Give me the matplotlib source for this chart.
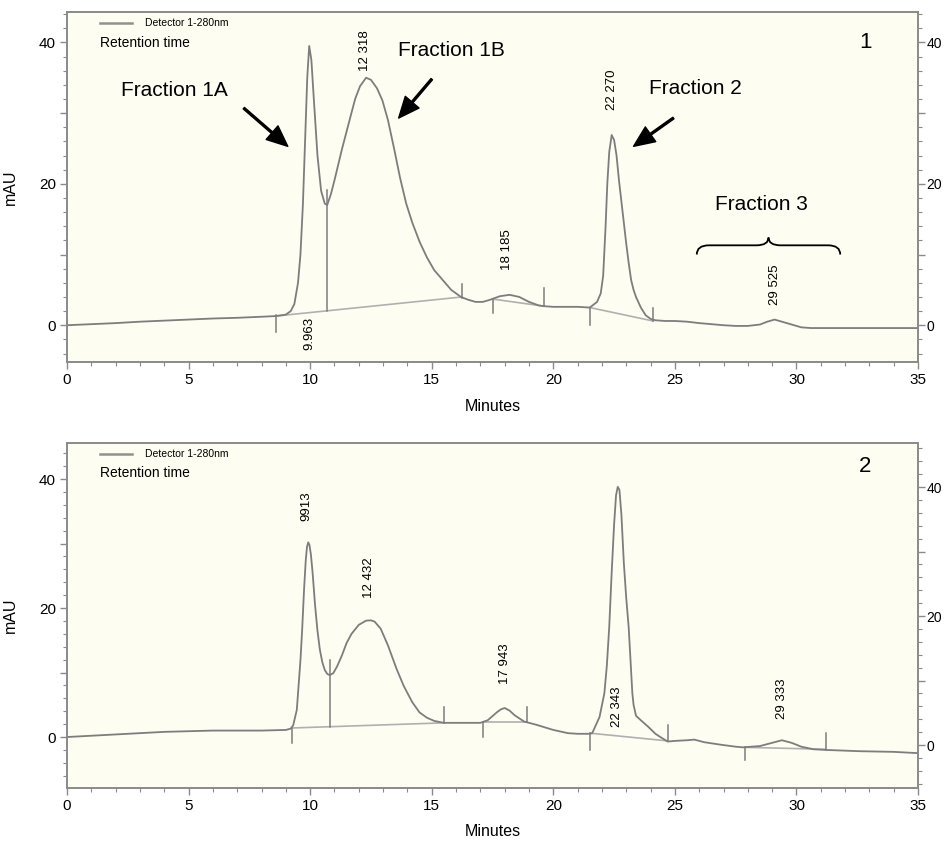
import matplotlib
matplotlib.use("Agg")
import matplotlib.pyplot as plt
from matplotlib.path import Path
from matplotlib.patches import PathPatch
from matplotlib.ticker import MultipleLocator, FuncFormatter

plt.rcParams['font.family'] = ['Liberation Sans', 'DejaVu Sans']

# ---------------- data: panel 1 trace (minutes, mAU) ----------------
t1 = [0.0, 1.0, 2.0, 3.0, 4.0, 5.0, 6.0, 7.0, 8.0, 8.6, 9.0, 9.2, 9.35, 9.5, 9.6,
      9.7, 9.8, 9.88, 9.96, 10.05, 10.15, 10.3, 10.45, 10.6, 10.7, 10.85, 11.0, 11.3,
      11.65, 11.85, 12.05, 12.3, 12.5, 12.75, 12.97, 13.2, 13.45, 13.7, 13.95,
      14.2, 14.5, 14.8, 15.1, 15.5, 15.8, 16.2, 16.5, 16.8, 17.1, 17.4, 17.8, 18.2,
      18.6, 19.0, 19.4, 19.6, 20.0, 21.0, 21.5, 21.8, 21.95, 22.05, 22.15, 22.22,
      22.3, 22.4, 22.5, 22.6, 22.7, 22.8, 22.9, 23.0, 23.1, 23.2, 23.3, 23.4, 23.6,
      23.8, 24.0, 24.2, 24.6, 25.0, 25.5, 26.0, 26.5, 27.0, 27.5, 28.0, 28.5, 28.8,
      29.1, 29.4, 29.8, 30.2, 30.6, 31.0, 33.0, 35.0]
v1 = [0.0, 0.15, 0.3, 0.5, 0.65, 0.8, 0.95, 1.05, 1.2, 1.3, 1.5, 2.0, 3.0, 6.0, 10.0,
      17.0, 27.0, 35.0, 39.5, 37.5, 32.0, 24.0, 19.0, 17.2, 17.0, 18.5, 20.5, 24.8,
      29.4, 32.0, 33.8, 35.0, 34.7, 33.5, 31.8, 29.0, 25.0, 20.8, 17.2,
      14.5, 11.8, 9.6, 7.8, 6.2, 5.0, 4.0, 3.6, 3.3, 3.3, 3.6, 4.1, 4.3,
      4.0, 3.3, 2.8, 2.7, 2.6, 2.6, 2.5, 3.3, 4.5, 7.0, 14.0, 20.0,
      24.5, 26.9, 26.2, 24.0, 20.5, 17.5, 14.5, 11.5, 8.8, 6.4, 5.0, 4.0, 2.5,
      1.4, 0.9, 0.7, 0.6, 0.6, 0.5, 0.3, 0.15, 0.0, -0.1, -0.1, 0.1, 0.5,
      0.8, 0.5, 0.1, -0.3, -0.4, -0.4, -0.4, -0.4]

# integration baselines (start t, start v, end t, end v)
base1 = [(8.6, 1.3, 16.25, 4.0), (17.5, 3.7, 19.6, 2.7), (21.5, 2.5, 24.1, 0.6)]
# peak-start / end markers (t, v_from, v_to)
marks1 = [(0.0, -0.3, 0.8), (8.6, 1.4, -1.0), (10.7, 2.0, 19.1), (16.25, 3.9, 5.9),
          (17.5, 3.7, 1.7), (19.6, 2.7, 5.2), (21.5, 2.5, 0.0), (24.1, 0.6, 2.4)]
# retention-time labels (text, t, v_anchor, va)
labels1 = [("9.963", 9.96, 1.2, "top"), ("12 318", 12.25, 36.0, "bottom"),
           ("18 185", 18.1, 7.8, "bottom"), ("22 270", 22.4, 30.4, "bottom"),
           ("29 525", 29.1, 2.8, "bottom")]

# ---------------- data: panel 2 trace (minutes, mAU) ----------------
t2 = [0.0, 1.0, 2.0, 3.0, 4.0, 5.0, 6.0, 7.0, 8.0, 9.0, 9.2, 9.3, 9.45, 9.6, 9.67,
      9.75, 9.82, 9.87, 9.92, 9.97, 10.03, 10.1, 10.2, 10.3, 10.4, 10.5, 10.6, 10.7,
      10.8, 10.95, 11.1, 11.3, 11.5, 11.7, 12.0, 12.3, 12.5, 12.65, 12.9, 13.2, 13.55,
      13.85, 14.2, 14.5, 14.8, 15.1, 15.5, 15.9, 16.5, 17.0, 17.3,
      17.7, 17.85, 18.0, 18.2, 18.4, 18.8, 19.3, 20.0, 20.6, 21.0, 21.5, 21.6, 21.9, 22.1,
      22.2, 22.3, 22.4, 22.5, 22.58, 22.65, 22.72, 22.8, 22.9, 23.0, 23.1, 23.25, 23.3, 23.4,
      23.6, 23.9, 24.2, 24.4, 24.7, 25.0, 25.5, 25.8, 26.2, 26.9, 27.5, 27.8, 28.5,
      29.0, 29.4, 29.8, 30.2, 30.7, 31.2, 32.6, 34.0, 35.0]
v2 = [0.0, 0.2, 0.4, 0.6, 0.8, 0.9, 1.0, 1.0, 1.0, 1.1, 1.3, 1.8, 4.2, 11.9, 16.6,
      23.0, 27.5, 29.5, 30.2, 29.8, 28.3, 25.5, 20.5, 16.5, 13.5, 11.6, 10.4, 9.8,
      9.6, 9.9, 10.9, 12.6, 14.6, 16.0, 17.4, 18.05, 18.1, 17.9, 16.8, 14.2, 10.6,
      7.9, 5.4, 3.8, 3.0, 2.5, 2.2, 2.2, 2.2, 2.2, 2.6,
      3.9, 4.3, 4.5, 4.1, 3.4, 2.4, 1.9, 1.1, 0.6, 0.5, 0.5, 0.6, 3.1, 6.8,
      11.0, 17.1, 25.5, 33.0, 37.5, 38.8, 38.3, 34.5, 27.0, 21.5, 17.0, 6.8, 5.0, 3.3,
      2.6, 1.6, 0.5, 0.0, -0.7, -0.6, -0.5, -0.4, -0.8, -1.2, -1.5, -1.6, -1.4,
      -0.9, -0.5, -0.9, -1.5, -1.9, -2.0, -2.2, -2.3, -2.5]

base2 = [(9.25, 1.4, 15.5, 2.2), (17.1, 2.3, 18.9, 2.3), (21.5, 0.6, 24.7, -0.6),
         (27.9, -1.6, 31.2, -1.9)]
marks2 = [(9.25, 1.4, -0.9), (10.8, 1.6, 11.9), (15.5, 2.2, 4.6), (17.1, 2.3, 0.0),
          (18.9, 2.3, 4.6), (21.5, 0.6, -2.0), (24.7, -0.6, 1.9), (27.9, -1.6, -3.6),
          (31.2, -2.0, 0.6)]
labels2 = [("9913", 9.85, 33.5, "bottom"), ("12 432", 12.4, 21.5, "bottom"),
           ("17 943", 18.0, 8.2, "bottom"), ("22 343", 22.6, 1.5, "bottom"),
           ("29 333", 29.4, 2.8, "bottom")]

x_ticks = [0, 5, 10, 15, 20, 25, 30, 35]

# ---------------- styling ----------------
BG = '#fefdf1'
LINE = '#7d7d7d'
BASE = '#b0b0b0'
SPINE = '#8a8a8a'

fig = plt.figure(figsize=(9.44, 8.44), dpi=100)

def style_axis(ax, ylim, right_ylim):
    ax.set_facecolor(BG)
    ax.set_xlim(0, 35)
    ax.set_ylim(*ylim)
    ax.set_xticks(x_ticks)
    ax.xaxis.set_minor_locator(MultipleLocator(1))
    ax.yaxis.set_major_locator(MultipleLocator(10))
    ax.yaxis.set_minor_locator(MultipleLocator(2))
    ax.yaxis.set_major_formatter(FuncFormatter(lambda v, p: f"{int(round(v))}" if round(v) % 20 == 0 else ""))
    for s in ax.spines.values():
        s.set_color(SPINE)
        s.set_linewidth(1.2)
    ax.tick_params(which='major', direction='out', length=5, color=SPINE, width=1.0,
                   labelsize=11, pad=3)
    ax.tick_params(which='minor', direction='out', length=3, color=SPINE, width=0.8)
    ax.set_ylabel('mAU', fontsize=11.5)
    ax.yaxis.set_label_coords(-0.058, 0.5)
    ax.set_xlabel('Minutes', fontsize=11.5)
    ax.xaxis.set_label_coords(0.5, -0.105)
    axr = ax.twinx()
    axr.set_ylim(*right_ylim)
    axr.yaxis.set_major_locator(MultipleLocator(10))
    axr.yaxis.set_minor_locator(MultipleLocator(2))
    axr.yaxis.set_major_formatter(FuncFormatter(lambda v, p: f"{int(round(v))}" if round(v) % 20 == 0 else ""))
    axr.tick_params(which='major', direction='out', length=5, color=SPINE, width=1.0,
                    labelsize=10, pad=1)
    axr.tick_params(which='minor', direction='out', length=3, color=SPINE, width=0.8)
    for s in axr.spines.values():
        s.set_color(SPINE)
        s.set_linewidth(1.2)
    return axr

def draw_panel(ax, t, v, bases, marks, labels, num):
    ax.plot(t, v, color=LINE, lw=1.3, zorder=3, solid_joinstyle='round')
    for (ta, va, tb, vb) in bases:
        ax.plot([ta, tb], [va, vb], color=BASE, lw=1.2, zorder=2)
    for (tm, a, b) in marks:
        ax.plot([tm, tm], [a, b], color=LINE, lw=1.1, zorder=3)
    for (txt, tx, ty, va) in labels:
        ax.text(tx, ty, txt, rotation=90, ha='center', va=va, fontsize=9.5, zorder=4)
    # legend-like header
    ax.plot([0.039, 0.076], [0.968, 0.968], transform=ax.transAxes, color='#909090', lw=1.8)
    ax.text(0.092, 0.968, 'Detector 1-280nm', transform=ax.transAxes, fontsize=7.5,
            va='center', ha='left')
    ax.text(0.039, 0.912, 'Retention time', transform=ax.transAxes, fontsize=10,
            va='center', ha='left')
    ax.text(0.938, 0.912 if num == '1' else 0.933, num, transform=ax.transAxes,
            fontsize=16, ha='center', va='center')

# ---------------- panel 1 ----------------
ax1 = fig.add_axes([0.071, 0.5711, 0.9015, 0.4147])
style_axis(ax1, (-5.2, 44.3), (-5.2, 44.3))
draw_panel(ax1, t1, v1, base1, marks1, labels1, '1')

arrow_kw = dict(facecolor='black', edgecolor='black', width=1.4, headwidth=13,
                headlength=15, shrink=0.0)
ax1.annotate('', xy=(9.08, 25.3), xytext=(7.27, 30.7), arrowprops=arrow_kw, zorder=5)
ax1.annotate('', xy=(13.64, 29.3), xytext=(15.0, 34.8), arrowprops=arrow_kw, zorder=5)
ax1.annotate('', xy=(23.3, 25.3), xytext=(24.94, 29.3), arrowprops=arrow_kw, zorder=5)
ax1.text(4.40, 33.2, 'Fraction 1A', fontsize=15, ha='center', va='center')
ax1.text(15.82, 38.9, 'Fraction 1B', fontsize=15, ha='center', va='center')
ax1.text(25.84, 33.5, 'Fraction 2', fontsize=15, ha='center', va='center')
ax1.text(28.55, 17.1, 'Fraction 3', fontsize=15, ha='center', va='center')

# curly brace for Fraction 3
bx0, bx1, bm = 25.9, 31.8, 28.85
by0, by1, by2 = 10.0, 11.3, 12.4
verts = [(bx0, by0), (bx0, by1), (bx0 + 0.5, by1), (bm - 0.5, by1), (bm, by1), (bm, by2),
         (bm, by1), (bm + 0.5, by1), (bx1 - 0.5, by1), (bx1, by1), (bx1, by0)]
codes = [Path.MOVETO, Path.CURVE3, Path.CURVE3, Path.LINETO, Path.CURVE3, Path.CURVE3,
         Path.CURVE3, Path.CURVE3, Path.LINETO, Path.CURVE3, Path.CURVE3]
ax1.add_patch(PathPatch(Path(verts, codes), facecolor='none', edgecolor='black', lw=1.3))

# ---------------- panel 2 ----------------
ax2 = fig.add_axes([0.071, 0.0664, 0.9015, 0.4087])
style_axis(ax2, (-7.9, 45.6), (-6.66, 46.84))
draw_panel(ax2, t2, v2, base2, marks2, labels2, '2')

fig.savefig('out.png', dpi=100, facecolor='white')
